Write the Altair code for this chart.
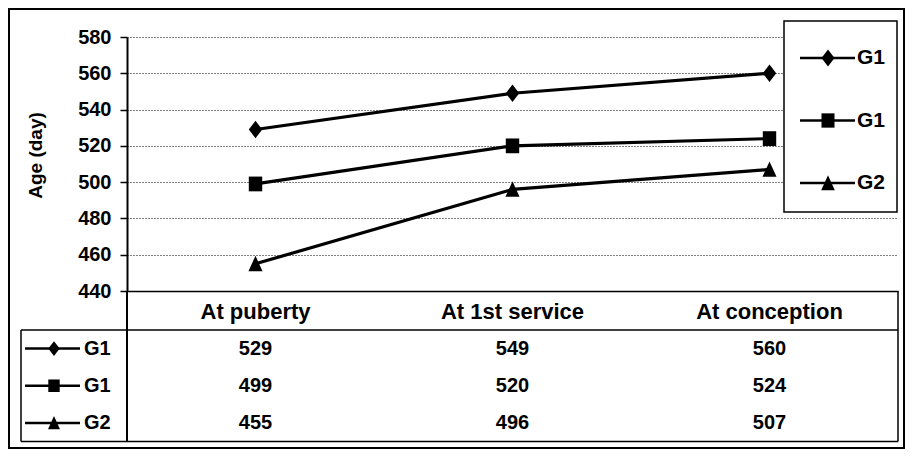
import altair as alt
import pandas as pd

# ---- data ----
categories = ["At puberty", "At 1st service", "At conception"]
series_ids = ["s1", "s2", "s3"]
series_labels = ["G1", "G1", "G2"]
g1_diamond = [529, 549, 560]
g1_square = [499, 520, 524]
g2_triangle = [455, 496, 507]
y_ticks = [440, 460, 480, 500, 520, 540, 560, 580]

shape_paths = [
    "M0,-1.3L1,0L0,1.3L-1,0Z",
    "M-1,-1.1L1,-1.1L1,1.1L-1,1.1Z",
    "M0,-1.2L1.05,1.1L-1.05,1.1Z",
]

rows = []
for sid, lab, vals in zip(series_ids, series_labels, [g1_diamond, g1_square, g2_triangle]):
    for c, v in zip(categories, vals):
        rows.append({"cat": c, "sid": sid, "label": lab, "value": v})
df = pd.DataFrame(rows)
leg = pd.DataFrame({"sid": series_ids, "label": series_labels})
one = pd.DataFrame({"k": [0]})

FONT = "Liberation Sans"
W, H = 771, 254

x_scale = alt.Scale(type="band", domain=categories, paddingInner=0, paddingOuter=0)
x_main = alt.X(
    "cat:N", sort=categories, scale=x_scale,
    axis=alt.Axis(
        title=None, labelAngle=0, ticks=False, tickSize=0, labelPadding=10,
        labelFont=FONT, labelFontSize=22, labelFontWeight="bold", labelColor="black",
        domainColor="black", domainWidth=1.5, grid=False,
    ),
)
x_plain = alt.X("cat:N", sort=categories, scale=x_scale)

y_scale = alt.Scale(domain=[440, 580], nice=False, zero=False)
y_main = alt.Y(
    "value:Q", scale=y_scale,
    axis=alt.Axis(
        values=y_ticks, title="Age (day)", titleFont=FONT, titleFontSize=19,
        titleFontWeight="bold", titleColor="black", titleAngle=270,
        titleX=-85.5, titleY=118, titleAlign="center", titleBaseline="alphabetic",
        labelFont=FONT, labelFontSize=20, labelFontWeight="bold", labelColor="black",
        labelPadding=9, tickSize=7, tickColor="black", tickWidth=1.5,
        domainColor="black", domainWidth=2, grid=True, gridColor="#000000",
        gridDash=[1, 2], gridWidth=1, labelOverlap=False,
    ),
)
y_plain = alt.Y("value:Q", scale=y_scale, axis=None)

shape_enc = alt.Shape("sid:N", scale=alt.Scale(domain=series_ids, range=shape_paths), legend=None)

row_y = alt.Y("sid:N", scale=alt.Scale(type="point", domain=series_ids, range=[293, 404.5], padding=0.5), axis=None)
box_y = alt.Y("sid:N", scale=alt.Scale(type="point", domain=series_ids, range=[21, 146], padding=0), axis=None)

lines = alt.Chart(df).mark_line(color="black", strokeWidth=3.2).encode(
    x=x_main, y=y_main, detail="sid:N")
points = alt.Chart(df).mark_point(filled=True, color="black", opacity=1, size=180).encode(
    x=x_plain, y=y_plain, shape=shape_enc)

# table values
table_text = alt.Chart(df).mark_text(
    font=FONT, fontSize=20, fontWeight="bold", color="black", baseline="middle", align="center"
).encode(x=x_plain, y=row_y, text="value:Q")

# table legend column
t_rule = alt.Chart(leg).mark_rule(color="black", strokeWidth=2.5).encode(
    x=alt.value(-102), x2=alt.value(-47), y=row_y)
t_pts = alt.Chart(leg).mark_point(filled=True, color="black", opacity=1, size=130).encode(
    x=alt.value(-73), y=row_y, shape=shape_enc)
t_lab = alt.Chart(leg).mark_text(
    font=FONT, fontSize=20, fontWeight="bold", color="black", align="left", baseline="middle"
).encode(x=alt.value(-43), y=row_y, text="label:N")

# table borders
def hline(y, x1, x2, w=1.5):
    return alt.Chart(one).mark_rule(color="black", strokeWidth=w).encode(
        x=alt.value(x1), x2=alt.value(x2), y=alt.value(y))

def vline(x, y1, y2, w=1.5):
    return alt.Chart(one).mark_rule(color="black", strokeWidth=w).encode(
        x=alt.value(x), y=alt.value(y1), y2=alt.value(y2))

borders = [
    hline(293, -106, W),
    hline(404.5, -106, W),
    vline(-106, 293, 404.5),
    vline(0, H, 404.5, 2),
    vline(W, H, 404.5),
]

# legend box (top right)
box = alt.Chart(one).mark_rect(fill="white", stroke="black", strokeWidth=1.5).encode(
    x=alt.value(657), x2=alt.value(770), y=alt.value(-16), y2=alt.value(175))
b_rule = alt.Chart(leg).mark_rule(color="black", strokeWidth=2.5).encode(
    x=alt.value(673), x2=alt.value(728), y=box_y)
b_pts = alt.Chart(leg).mark_point(filled=True, color="black", opacity=1, size=169).encode(
    x=alt.value(701), y=box_y, shape=shape_enc)
b_lab = alt.Chart(leg).mark_text(
    font=FONT, fontSize=21, fontWeight="bold", color="black", align="left", baseline="middle"
).encode(x=alt.value(730), y=box_y, text="label:N")

# outer frame
frame = alt.Chart(one).mark_rect(fill="white", fillOpacity=0, stroke="black", strokeWidth=2).encode(
    x=alt.value(-118), x2=alt.value(777), y=alt.value(-28), y2=alt.value(411))

chart = alt.layer(
    lines, points, table_text, t_rule, t_pts, t_lab, *borders,
    box, b_rule, b_pts, b_lab, frame,
).resolve_scale(y="independent").properties(
    width=W, height=H,
    autosize=alt.AutoSizeParams(type="none"),
    padding={"left": 119, "top": 29, "right": 7, "bottom": 158},
    background="white",
).configure_view(stroke=None)

chart.save("out.html", embed_options={"renderer": "svg", "actions": False})
